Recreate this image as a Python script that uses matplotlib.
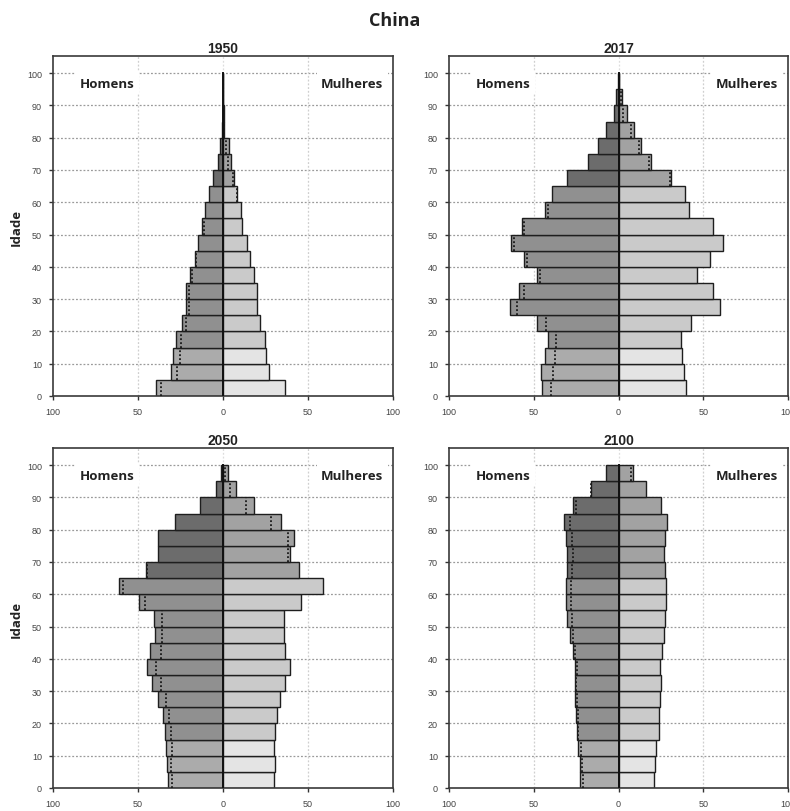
import numpy as np
import matplotlib
matplotlib.use("Agg")
import matplotlib.pyplot as plt

# age groups 0-4 ... 95-99 (lower edge of each 5-year band)
ages = list(range(0, 100, 5))

# population in millions
men_1950 = [39.6, 30.4, 29.2, 27.5, 24.3, 21.8, 21.8, 19.2, 16.3, 14.5,
            12.5, 10.5, 8.0, 5.6, 2.9, 1.9, 0.6, 0.2, 0.05, 0.0]
women_1950 = [36.7, 26.9, 25.5, 24.5, 21.6, 20.0, 20.0, 18.0, 15.7, 14.3,
              11.2, 10.6, 8.4, 6.7, 4.8, 3.4, 0.8, 0.3, 0.1, 0.0]

men_2017 = [45.2, 45.6, 43.1, 41.3, 47.8, 63.9, 58.6, 48.2, 56.0, 63.3,
            57.0, 43.1, 39.3, 30.5, 18.2, 11.8, 7.3, 2.9, 1.2, 0.2]
women_2017 = [39.7, 38.9, 37.4, 36.8, 42.5, 59.6, 56.0, 46.2, 53.7, 61.6,
              55.5, 41.7, 39.3, 31.1, 19.4, 13.3, 9.0, 4.8, 2.0, 0.5]

men_2050 = [32.5, 32.9, 33.3, 34.3, 35.5, 38.2, 41.8, 44.7, 42.7, 39.8,
            40.4, 49.6, 61.4, 45.1, 38.2, 38.2, 28.4, 13.7, 4.1, 1.2]
women_2050 = [29.8, 30.4, 30.2, 30.8, 31.8, 33.7, 36.7, 39.2, 36.7, 35.7,
              36.1, 46.1, 58.6, 44.9, 39.2, 42.0, 34.3, 18.4, 7.5, 3.1]

men_2100 = [23.0, 22.6, 24.0, 24.6, 25.2, 25.8, 25.6, 25.8, 26.9, 28.9,
            30.5, 30.9, 31.1, 30.5, 30.1, 30.9, 31.9, 27.1, 16.5, 7.3]
women_2100 = [21.2, 21.6, 22.2, 23.6, 24.0, 24.2, 24.8, 24.6, 25.6, 26.9,
              27.5, 27.9, 28.1, 27.5, 26.9, 27.5, 28.5, 25.0, 16.1, 8.8]

years = ["1950", "2017", "2050", "2100"]
panels = [(men_1950, women_1950), (men_2017, women_2017),
          (men_2050, women_2050), (men_2100, women_2100)]

x_ticks = [-100, -50, 0, 50, 100]
x_ticklabels = ["100", "50", "0", "50", "100"]
y_ticks = list(range(0, 101, 10))

men_colors = {"child": "#ababab", "adult": "#909090", "old": "#6c6c6c"}
women_colors = {"child": "#e4e4e4", "adult": "#cacaca", "old": "#a2a2a2"}


def group(age):
    if age < 15:
        return "child"
    if age < 65:
        return "adult"
    return "old"


tick_font = ["Liberation Sans", "DejaVu Sans"]
label_font = ["Open Sans", "DejaVu Sans"]

fig = plt.figure(figsize=(7.9, 8.12), dpi=100)

# axes rectangles in figure fractions
positions = [
    [53 / 790, 1 - 397 / 812, 340 / 790, 340 / 812],
    [449 / 790, 1 - 397 / 812, 339 / 790, 340 / 812],
    [53 / 790, 1 - 789 / 812, 340 / 790, 340 / 812],
    [449 / 790, 1 - 789 / 812, 339 / 790, 340 / 812],
]

for k, (year, (men, women)) in enumerate(zip(years, panels)):
    ax = fig.add_axes(positions[k])
    ax.set_xlim(-100, 100)
    ax.set_ylim(0, 105.3)

    # grid
    for yv in y_ticks[1:]:
        ax.axhline(yv, color="#9a9a9a", lw=0.9, ls=(0, (1.5, 1.5)), zorder=0)
    for xv in [-50, 50]:
        ax.axvline(xv, color="#cfcfcf", lw=0.9, ls=(0, (1.5, 1.5)), zorder=0)
    ax.axvline(0, color="#dddddd", lw=0.9, ls=(0, (1.5, 1.5)), zorder=0)

    mc = [men_colors[group(a)] for a in ages]
    wc = [women_colors[group(a)] for a in ages]
    ax.barh(ages, [-m for m in men], height=5, align="edge", color=mc,
            edgecolor="#1e1e1e", linewidth=1.0, zorder=2)
    ax.barh(ages, women, height=5, align="edge", color=wc,
            edgecolor="#1e1e1e", linewidth=1.0, zorder=2)

    # dotted marks: the smaller sex shown inside the larger bar
    for a, m, w in zip(ages, men, women):
        if m - w > 0.2:
            ax.plot([-w, -w], [a, a + 5], color="#1a1a1a", lw=1.3,
                    ls=(0, (1, 1.2)), zorder=3)
        elif w - m > 0.2:
            ax.plot([m, m], [a, a + 5], color="#1a1a1a", lw=1.3,
                    ls=(0, (1, 1.2)), zorder=3)

    ax.plot([0, 0], [0, 100], color="#111111", lw=1.4, zorder=4)

    ax.text(-68, 96.9, "Homens", ha="center", va="center", fontsize=9.5,
            fontweight="bold", family=label_font, color="#222222", zorder=5,
            bbox=dict(facecolor="white", edgecolor="none", pad=3))
    ax.text(76, 96.9, "Mulheres", ha="center", va="center", fontsize=9.5,
            fontweight="bold", family=label_font, color="#222222", zorder=5,
            bbox=dict(facecolor="white", edgecolor="none", pad=3))

    ax.set_xticks(x_ticks)
    ax.set_xticklabels(x_ticklabels)
    ax.set_yticks(y_ticks)
    ax.tick_params(length=3, width=1, color="#333333", labelsize=6.5,
                   labelcolor="#444444", pad=5)
    for lab in ax.get_xticklabels() + ax.get_yticklabels():
        lab.set_family(tick_font)

    for sp in ax.spines.values():
        sp.set_color("#3a3a3a")
        sp.set_linewidth(1.2)

    ax.set_title(year, fontsize=10, fontweight="bold", pad=3,
                 family=["Liberation Sans Narrow", "Liberation Sans"],
                 color="#222222")

    if k % 2 == 0:
        ax.set_ylabel("Idade", fontsize=9.5, fontweight="bold",
                      family=label_font, color="#222222", labelpad=3)

fig.text(0.5, 1 - 21 / 812, "China", ha="center", va="center", fontsize=13,
         fontweight="bold", family=label_font, color="#222222")

fig.savefig("out.png", dpi=100, facecolor="white")
